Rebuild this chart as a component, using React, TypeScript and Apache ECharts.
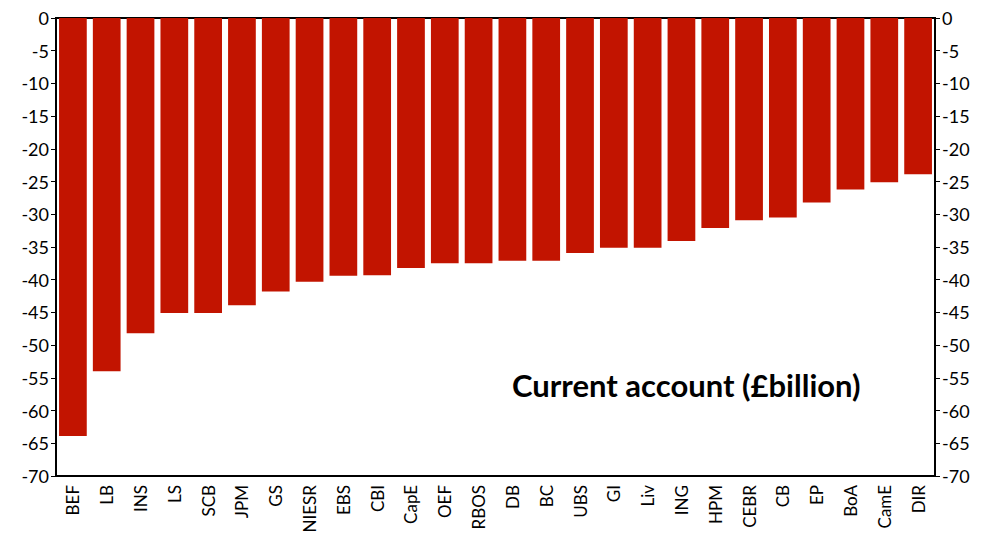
import React, { useEffect, useRef } from "react";
import * as echarts from "echarts";

const categories = ["BEF","LB","INS","LS","SCB","JPM","GS","NIESR","EBS","CBI","CapE","OEF","RBOS","DB","BC","UBS","GI","Liv","ING","HPM","CEBR","CB","EP","BoA","CamE","DIR"];
const values = [-63.9,-54.0,-48.2,-45.1,-45.1,-43.9,-41.8,-40.3,-39.4,-39.3,-38.2,-37.5,-37.5,-37.1,-37.1,-35.9,-35.1,-35.1,-34.1,-32.1,-30.9,-30.5,-28.2,-26.2,-25.1,-23.9];
const title = "Current account (£billion)";
const Y_MIN = -70;

const FONT = "Lato, 'Open Sans', sans-serif";

export default function App() {
  const ref = useRef<HTMLDivElement>(null);
  useEffect(() => {
    document.body.style.margin = "0";
    const chart = echarts.init(ref.current!, null, { renderer: "svg" });
    const yC: any = {
      type: "value",
      min: Y_MIN,
      max: 0,
      interval: 5,
      splitLine: { show: false },
      axisLine: { show: true, lineStyle: { color: "#000" } },
      axisTick: { show: true, lineStyle: { color: "#000" } },
      axisLabel: { color: "#000", fontSize: 18, fontFamily: FONT, margin: 7 },
    };
    const titleGraphic = {
      type: "text",
      left: 512,
      top: 369,
      style: { text: title, fontSize: 31, fontWeight: "bold", fontFamily: FONT, fill: "#000" },
    };
    chart.setOption({
      animation: false,
      grid: { left: 56, right: 49, top: 18, bottom: 66, show: true, borderColor: "#000", borderWidth: 2 },
      xAxis: {
        type: "category",
        data: categories,
        axisLine: { onZero: false, lineStyle: { color: "#000" } },
        axisTick: { lineStyle: { color: "#000" } },
        axisLabel: { show: false },
      },
      yAxis: [{ ...yC, position: "left" }, { ...yC, position: "right" }],
      series: [{ type: "bar", data: values, barCategoryGap: "18%", itemStyle: { color: "#C21400" } }],
      graphic: [titleGraphic],
    });
    const baseY = chart.convertToPixel({ yAxisIndex: 0 }, Y_MIN) as number;
    const labels = categories.map((c, i) => {
      const x = chart.convertToPixel({ xAxisIndex: 0 }, i) as number;
      return {
        type: "text",
        x,
        y: baseY + 9,
        rotation: Math.PI / 2,
        silent: true,
        style: { text: c, fontSize: 17, fontFamily: FONT, fill: "#000", align: "right", verticalAlign: "middle" },
      };
    });
    chart.setOption({ graphic: [titleGraphic, ...labels] });
    return () => chart.dispose();
  }, []);
  return <div ref={ref} style={{ width: 984, height: 542 }} />;
}
